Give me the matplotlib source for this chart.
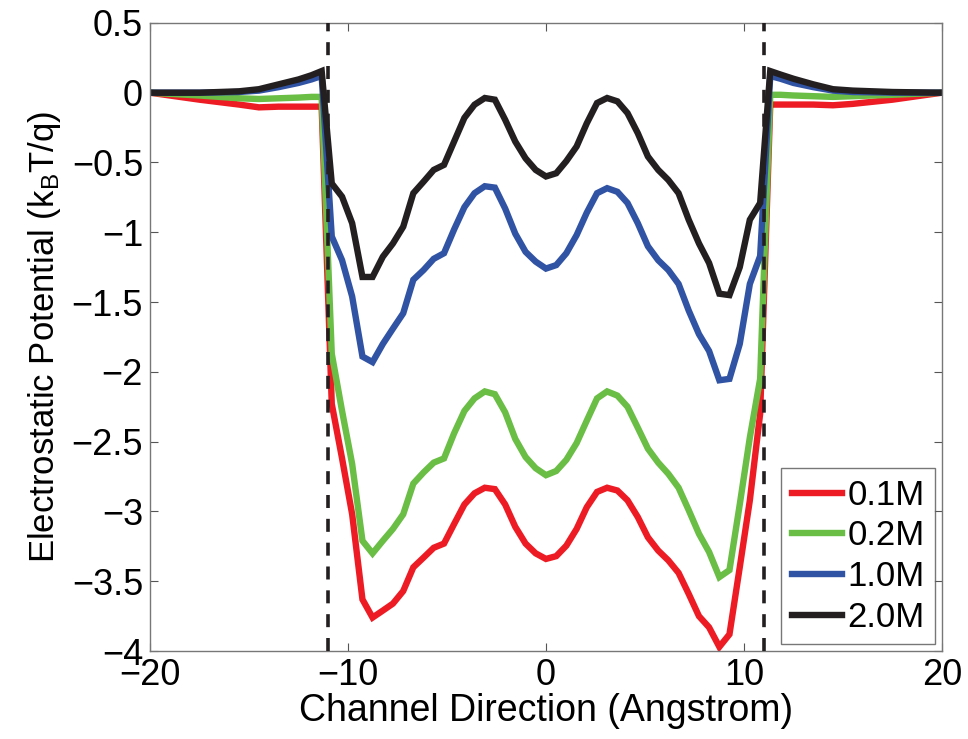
import matplotlib
matplotlib.use('Agg')
import matplotlib.pyplot as plt

plt.rcParams['font.family'] = ['Liberation Sans', 'DejaVu Sans']
plt.rcParams['mathtext.fontset'] = 'custom'
plt.rcParams['mathtext.rm'] = 'Liberation Sans'
plt.rcParams['mathtext.default'] = 'regular'

# channel coordinate (Angstrom)
x = [-20, -17.5, -15.5, -14.5, -13.5, -12.5, -11.85, -11.33,
     -10.82, -10.30, -9.79, -9.27, -8.76, -8.24, -7.73, -7.21, -6.70, -6.18,
     -5.67, -5.15, -4.64, -4.12, -3.61, -3.09, -2.58, -2.06, -1.55, -1.03,
     -0.52, 0, 0.52, 1.03, 1.55, 2.06, 2.58, 3.09, 3.61, 4.12, 4.64, 5.15,
     5.67, 6.18, 6.70, 7.21, 7.73, 8.24, 8.76, 9.27, 9.79, 10.30, 10.82,
     11.33, 11.85, 12.5, 13.5, 14.5, 15.5, 17.5, 20]

pot_01 = [0, -0.05, -0.085, -0.105, -0.1, -0.1, -0.1, -0.1,
          -2.23, -2.62, -3.02, -3.63, -3.76, -3.71, -3.66, -3.57, -3.40, -3.33,
          -3.26, -3.23, -3.09, -2.95, -2.87, -2.83, -2.84, -2.95, -3.11, -3.23,
          -3.30, -3.34, -3.32, -3.245, -3.125, -2.97, -2.86, -2.83, -2.85, -2.92, -3.04, -3.185,
          -3.28, -3.35, -3.44, -3.59, -3.75, -3.83, -3.97, -3.88, -3.40, -2.92, -2.30,
          -0.085, -0.085, -0.085, -0.085, -0.09, -0.08, -0.05, 0]

pot_02 = [0, -0.02, -0.04, -0.045, -0.04, -0.035, -0.03, -0.03,
          -1.87, -2.28, -2.66, -3.21, -3.30, -3.21, -3.125, -3.02, -2.80, -2.72,
          -2.65, -2.62, -2.44, -2.28, -2.19, -2.14, -2.16, -2.29, -2.48, -2.61,
          -2.69, -2.74, -2.71, -2.63, -2.51, -2.35, -2.19, -2.14, -2.17, -2.25, -2.40, -2.55,
          -2.65, -2.73, -2.83, -2.99, -3.16, -3.29, -3.47, -3.42, -2.95, -2.47, -2.05,
          -0.015, -0.015, -0.02, -0.025, -0.03, -0.025, -0.015, 0]

pot_10 = [0, 0, 0.005, 0.015, 0.04, 0.07, 0.095, 0.12,
          -1.03, -1.20, -1.46, -1.89, -1.93, -1.80, -1.69, -1.58, -1.34, -1.27,
          -1.19, -1.15, -0.98, -0.82, -0.72, -0.67, -0.68, -0.83, -1.01, -1.14,
          -1.21, -1.26, -1.235, -1.15, -1.02, -0.86, -0.72, -0.684, -0.71, -0.79, -0.935, -1.10,
          -1.20, -1.27, -1.37, -1.56, -1.73, -1.85, -2.06, -2.05, -1.80, -1.37, -1.17,
          0.12, 0.10, 0.07, 0.04, 0.015, 0.005, 0, 0]

pot_20 = [0, 0, 0.01, 0.025, 0.06, 0.095, 0.125, 0.155,
          -0.65, -0.745, -0.935, -1.32, -1.32, -1.175, -1.08, -0.96, -0.72, -0.637,
          -0.553, -0.517, -0.35, -0.18, -0.086, -0.038, -0.05, -0.194, -0.35, -0.47,
          -0.553, -0.60, -0.577, -0.49, -0.385, -0.22, -0.074, -0.038, -0.062, -0.146, -0.29, -0.457,
          -0.553, -0.625, -0.72, -0.91, -1.08, -1.22, -1.44, -1.45, -1.25, -0.91, -0.79,
          0.155, 0.13, 0.10, 0.06, 0.025, 0.015, 0.005, 0]

labels = ['0.1M', '0.2M', '1.0M', '2.0M']
colors = ['#ED1C24', '#6ABD45', '#3153A4', '#231F20']
series = [pot_01, pot_02, pot_10, pot_20]
channel_ends = [-11, 11]

fig = plt.figure(figsize=(9.68, 7.39), dpi=100)
ax = fig.add_axes([0.155, 0.119, 0.818, 0.850])

for ys, c, lab in zip(series, colors, labels):
    ax.plot(x, ys, color=c, lw=4.6, label=lab, solid_joinstyle='miter')

for xe in channel_ends:
    ax.axvline(xe, color='#231F20', lw=2.6, ls=(0, (3.6, 3.0)), zorder=5)

ax.set_xlim(-20, 20)
ax.set_ylim(-4, 0.5)
ax.set_xticks([-20, -10, 0, 10, 20])
ax.set_yticks([-4, -3.5, -3, -2.5, -2, -1.5, -1, -0.5, 0, 0.5])
ax.set_yticklabels(['\u22124', '\u22123.5', '\u22123', '\u22122.5', '\u22122',
                    '\u22121.5', '\u22121', '\u22120.5', '0', '0.5'])
ax.tick_params(direction='in', length=6, width=0.8, color='#555555',
               labelsize=26, top=True, right=True, pad=5)
for s in ax.spines.values():
    s.set_color('#777777')
    s.set_linewidth(1.0)

ax.set_xlabel('Channel Direction (Angstrom)', fontsize=27, labelpad=0)
ax.set_ylabel('Electrostatic Potential (k$_B$T/q)', fontsize=25, labelpad=6)

leg = ax.legend(loc='lower right', fontsize=25, frameon=True, fancybox=False,
                handlelength=1.45, handletextpad=0.15, labelspacing=0.22,
                borderpad=0.3, borderaxespad=0.2)
leg.get_frame().set_edgecolor('#555555')
leg.get_frame().set_linewidth(1.0)

fig.savefig('out.png', dpi=100)
